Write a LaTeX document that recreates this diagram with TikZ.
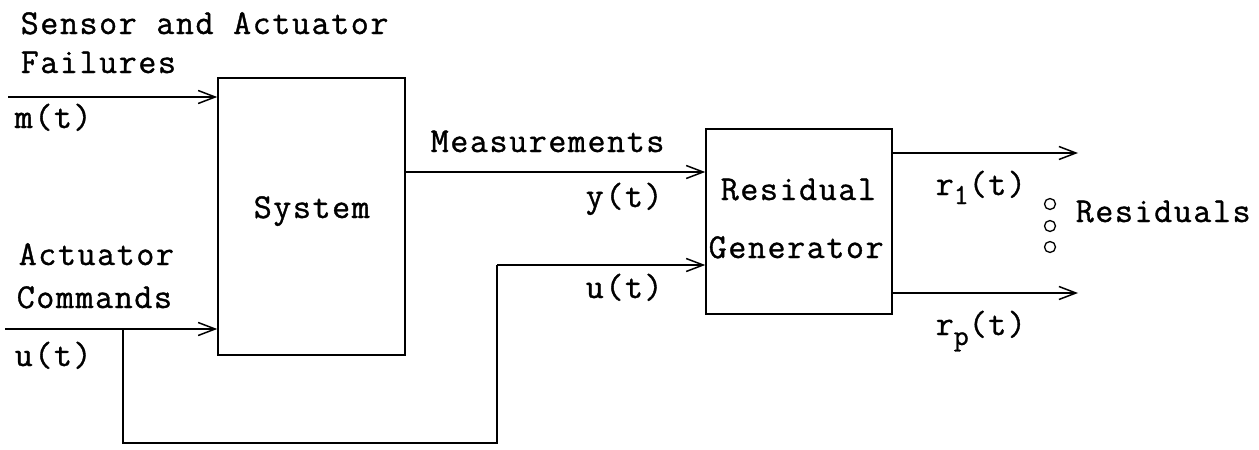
\documentclass[tikz,border=0pt]{standalone}
\usepackage{fontspec}
\newfontfamily\plotfont{Latin Modern Mono}[LetterSpace=4.5,FakeBold=1]
\usetikzlibrary{arrows.meta}
\begin{document}
\begin{tikzpicture}[x=1pt,y=-1pt,
  line width=1.5pt,
  arr/.style={-{Straight Barb[length=17pt,width=13pt,line width=1.5pt]}},
  blk/.style={draw,inner sep=0pt},
  lbl/.style={anchor=base west,inner sep=0pt,font=\plotfont\fontsize{35}{35}\selectfont},
  dot/.style={circle,draw,minimum size=11pt,inner sep=0pt,line width=1.3pt}]
\useasboundingbox (0,0) rectangle (1259,450);
% blocks
\node[blk,minimum width=187pt,minimum height=277pt] (sys) at (311.5,216.5) {};
\node[blk,minimum width=186pt,minimum height=185pt] (res) at (799,221.5) {};
% texts
\node[lbl] (t1) at (20,34) {Sensor and Actuator};
\node[lbl] (t2) at (20,73) {Failures};
\node[lbl] (t3) at (14,128) {m(t)};
\node[lbl] (t4) at (18,265) {Actuator};
\node[lbl] (t5) at (16,308) {Commands};
\node[lbl] (t6) at (14,366) {u(t)};
\node[lbl] (t7) at (253,218) {System};
\node[lbl] (t8) at (430,152) {Measurements};
\node[lbl] (t9) at (585,207) {y(t)};
\node[lbl] (t10) at (585,298) {u(t)};
\node[lbl] (t11) at (720,200) {Residual};
\node[lbl] (t12) at (708,258) {Generator};
\node[lbl] (t13) at (935,195) {r\raisebox{-9pt}{\fontsize{29}{29}\selectfont 1}(t)};
\node[lbl] (t14) at (935,335) {r\raisebox{-10pt}{\fontsize{29}{29}\selectfont p}(t)};
\node[lbl] (t15) at (1075,222) {Residuals};
% dots
\node[dot] (d1) at (1050,204) {};
\node[dot] (d2) at (1050,226) {};
\node[dot] (d3) at (1050,247) {};
% coordinates
\coordinate (min) at (8,97);
\coordinate (uin) at (5,329);
\coordinate (br) at (123,329);
\coordinate (c1) at (123,443);
\coordinate (c2) at (497,443);
\coordinate (c3) at (497,265);
\coordinate (yo) at (405,172);
\coordinate (r1e) at (1078,153);
\coordinate (rpe) at (1078,293);
% connectors
\draw[arr] (min) -- (min -| sys.west);
\draw[arr] (uin) -- (uin -| sys.west);
\draw (br) -- (c1) -- (c2) -- (c3);
\draw[arr] (c3) -- (c3 -| res.west);
\draw[arr] (yo -| sys.east) -- (yo -| res.west);
\draw[arr] (r1e -| res.east) -- (r1e);
\draw[arr] (rpe -| res.east) -- (rpe);
\end{tikzpicture}
\end{document}
